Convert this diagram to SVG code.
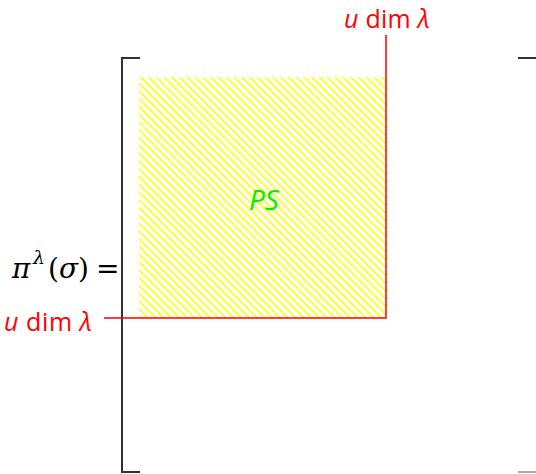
<svg xmlns="http://www.w3.org/2000/svg" width="536" height="474" viewBox="0 0 536 474">
<style>
.br{stroke:#333;stroke-width:2;fill:none}
.red{stroke:#ff0000;stroke-width:1.5;fill:none}
.lab{font-family:"Open Sans","Liberation Sans",sans-serif;font-size:25px;fill:#ff0000}
.it{font-style:italic}
.math{font-family:"DejaVu Serif","Liberation Serif",serif;font-size:28px;fill:#000}
.ps{font-family:"Open Sans","Liberation Sans",sans-serif;font-size:28px;font-style:italic;fill:#00ee00}
</style>
<defs>
<pattern id="hatch" patternUnits="userSpaceOnUse" width="5.5" height="5.5" patternTransform="rotate(-45)">
<line x1="1" y1="0" x2="1" y2="5.5" stroke="#ffff00" stroke-width="1.6"/>
</pattern>
</defs>
<g id="matrix">
<path class="br" d="M140,58 H122 V472 H140"/>
<path class="br" d="M518,58 H536"/>
<path d="M518,472 H536" stroke="#aaa" stroke-width="2"/>
</g>
<g id="PS">
<rect x="139" y="77" width="247" height="241" fill="url(#hatch)"/>
<text class="ps" x="264" y="210" text-anchor="middle">PS</text>
</g>
<g id="connectors">
<path class="red" d="M386,35 V318 H104"/>
</g>
<g id="label-top">
<text class="lab" x="344" y="28" textLength="86"><tspan class="it">u</tspan> dim <tspan class="it">λ</tspan></text>
</g>
<g id="label-left">
<text class="lab" x="4" y="331" textLength="88"><tspan class="it">u</tspan> dim <tspan class="it">λ</tspan></text>
</g>
<g id="lhs">
<text class="math" y="278"><tspan x="12" font-style="italic">π</tspan><tspan x="33" y="264" font-size="19" font-style="italic">λ</tspan><tspan x="48" y="278">(</tspan><tspan x="59" font-style="italic">σ</tspan><tspan x="78">)</tspan><tspan x="96">=</tspan></text>
</g>
</svg>
